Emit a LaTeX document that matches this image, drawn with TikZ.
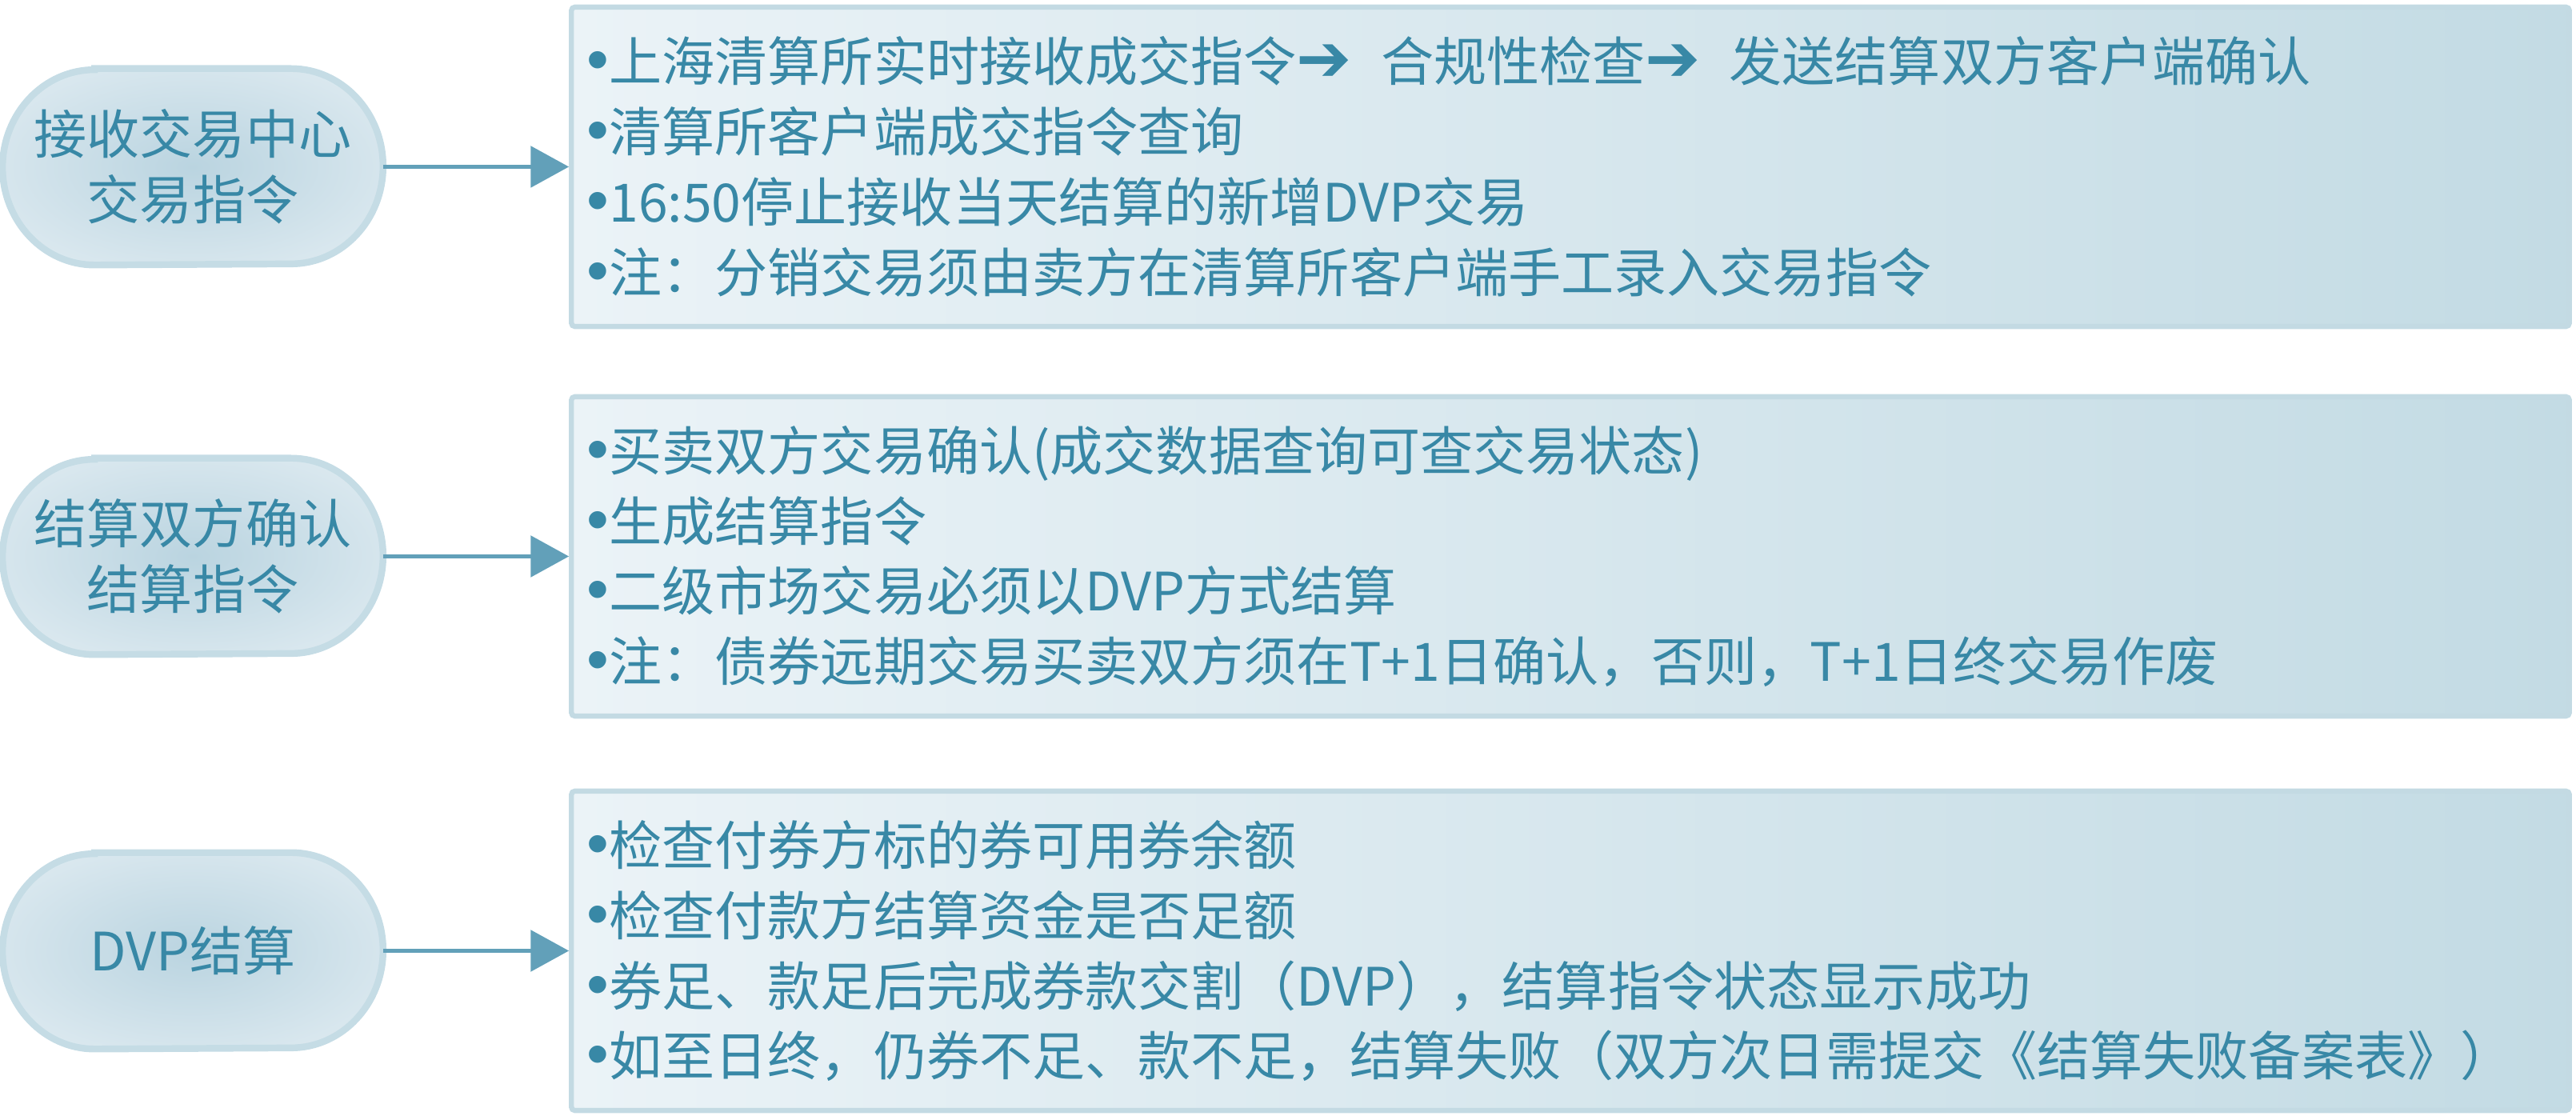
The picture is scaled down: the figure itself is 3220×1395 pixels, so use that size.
\documentclass[tikz,border=0pt]{standalone}
\usepackage{fontspec}
\usepackage{graphicx}
\setmainfont{Noto Sans CJK SC}
\newfontfamily\arrowfont{DejaVu Sans}
\newfontfamily\bulfont{Liberation Sans}
\usetikzlibrary{arrows.meta,backgrounds}
\definecolor{txtc}{RGB}{56,136,166}
\definecolor{pillborder}{RGB}{197,220,229}
\definecolor{boxborder}{RGB}{195,218,227}
\definecolor{boxleft}{RGB}{235,243,247}
\definecolor{boxright}{RGB}{195,219,228}
\definecolor{pillin}{RGB}{186,212,224}
\definecolor{pillout}{RGB}{242,247,250}
\definecolor{arrc}{RGB}{98,160,185}
\pgfdeclareradialshading{pillshade}{\pgfpoint{0bp}{0bp}}{color(0bp)=(pillin); color(50bp)=(pillout); color(100bp)=(pillout)}
\newcommand\bxfont{\fontsize{18.8pt}{25pt}\selectfont}
\newcommand\plfont{\fontsize{18.8pt}{23.4pt}\selectfont}
\newcommand\arr{{\arrowfont\scalebox{1.25}{➔}}\hspace{0.21cm}}
\newcommand\bul{{\bulfont\scalebox{1.2}{•}}}
\begin{document}
\begin{tikzpicture}[x=0.01cm,y=0.01cm,
  pillnode/.style={rectangle, minimum width=4.74cm, minimum height=2.44cm, inner sep=0pt, align=center, text=txtc, font=\plfont},
  pillshape/.style={draw=pillborder, line width=2.4pt, shading=pillshade},
  boxnode/.style={rectangle, draw=boxborder, line width=1.8pt, rounded corners=1.2pt, left color=boxleft, right color=boxright, minimum width=24.96cm, minimum height=3.99cm, inner sep=0pt},
  boxtext/.style={anchor=west, align=left, inner sep=0pt, text=txtc, font=\bxfont},
  conn/.style={draw=arrc, line width=1.3pt, -{Triangle[length=13.6pt,width=14.6pt]}}
]
\useasboundingbox (0,0) rectangle (3220,-1395);

% boxes
\node[boxnode] (b1) at (1963,-208.5) {};
\node[boxnode] (b2) at (1963,-695.5) {};
\node[boxnode] (b3) at (1963,-1188.5) {};

\node[boxtext] (t1) at (733,-208.5) {\bul 上海清算所实时接收成交指令\arr{} 合规性检查\arr{} 发送结算双方客户端确认\\
\bul 清算所客户端成交指令查询\\
\bul 16:50停止接收当天结算的新增DVP交易\\
\bul 注：分销交易须由卖方在清算所客户端手工录入交易指令};

\node[boxtext] (t2) at (733,-695.5) {\bul 买卖双方交易确认(成交数据查询可查交易状态)\\
\bul 生成结算指令\\
\bul 二级市场交易必须以DVP方式结算\\
\bul 注：债券远期交易买卖双方须在T+1日确认，否则，T+1日终交易作废};

\node[boxtext] (t3) at (733,-1188.5) {\bul 检查付券方标的券可用券余额\\
\bul 检查付款方结算资金是否足额\\
\bul 券足、款足后完成券款交割（DVP），结算指令状态显示成功\\
\bul 如至日终，仍券不足、款不足，结算失败（双方次日需提交《结算失败备案表》）};

% pills
\node[pillnode] (p1) at (241,-208.5) {接收交易中心\\交易指令};
\node[pillnode] (p2) at (241,-695.5) {结算双方确认\\结算指令};
\node[pillnode] (p3) at (241,-1188.5) {DVP结算};

\begin{scope}[on background layer]
\foreach \p in {p1,p2,p3}{
  \path[pillshape] ([xshift=1.15cm]\p.north west) -- ([xshift=-1.15cm]\p.north east)
    arc[start angle=90,end angle=-90,x radius=1.15cm,y radius=1.22cm]
    -- ([xshift=1.15cm]\p.south west)
    arc[start angle=270,end angle=90,x radius=1.15cm,y radius=1.22cm] -- cycle;
}
\end{scope}

% connectors
\draw[conn] (p1.east) -- (b1.west);
\draw[conn] (p2.east) -- (b2.west);
\draw[conn] (p3.east) -- (b3.west);
\end{tikzpicture}
\end{document}
